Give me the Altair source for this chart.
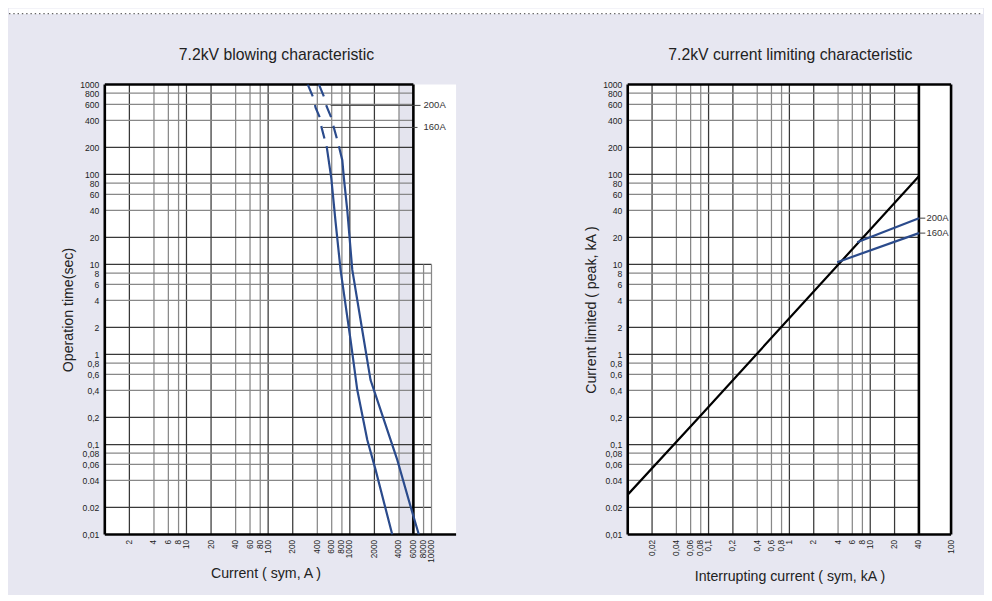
import altair as alt
import pandas as pd
import math

# ---------------- tick values / labels ----------------
time_ticks = [0.01, 0.02, 0.04, 0.06, 0.08, 0.1, 0.2, 0.4, 0.6, 0.8, 1, 2, 4, 6, 8,
              10, 20, 40, 60, 80, 100, 200, 400, 600, 800, 1000]
time_labels = ["0,01", "0.02", "0.04", "0,06", "0,08", "0,1", "0,2", "0,4", "0,6", "0,8",
               "1", "2", "4", "6", "8", "10", "20", "40", "60", "80", "100", "200",
               "400", "600", "800", "1000"]

blow_ticks = [2, 4, 6, 8, 10, 20, 40, 60, 80, 100, 200, 400, 600, 800, 1000,
              2000, 4000, 6000, 8000, 10000]
blow_labels = [str(v) for v in blow_ticks]

lim_ticks = [0.02, 0.04, 0.06, 0.08, 0.1, 0.2, 0.4, 0.6, 0.8, 1, 2, 4, 6, 8, 10, 20, 40, 100]
lim_labels = ["0,02", "0,04", "0,06", "0,08", "0,1", "0,2", "0,4", "0,6", "0,8",
              "1", "2", "4", "6", "8", "10", "20", "40", "100"]

# ---------------- blowing characteristic (A, sec) ----------------
b200_dash_x = [418, 482, 520, 593, 638, 702, 735]
b200_dash_y = [1000, 731, 570, 428, 331, 241, 206]
b200_solid_x = [735, 809, 846, 931, 1072, 1419, 1794, 2065, 3804, 5534, 6995]
b200_solid_y = [206, 144, 91, 40, 8.7, 1.87, 0.52, 0.356, 0.068, 0.0206, 0.01]

b160_dash_x = [305, 357, 381, 430, 451, 495, 520]
b160_dash_y = [1000, 713, 552, 428, 333, 241, 206]
b160_solid_x = [520, 593, 669, 771, 1021, 1233, 1634, 2065, 3306]
b160_solid_y = [206, 91, 29.7, 8.67, 1.45, 0.405, 0.113, 0.0526, 0.01]

blow_names = ["200A", "160A"]
blow_leader_y = [585, 333]
blow_leader_x0 = [582, 464]
blow_leader_x1 = [7340, 6740]
blow_label_x = [8000, 8000]

# ---------------- current limiting characteristic (kA) ----------------
prosp_x = [0.01, 0.082, 40]
prosp_y = [0.0277, 0.216, 95.5]
lim200_x = [6.9, 40]
lim200_y = [17.7, 32.7]
lim160_x = [3.9, 40]
lim160_y = [10.6, 22.3]
lim_names = ["200A", "160A"]
lim_end_y = [32.7, 22.3]
lim_leader_x1 = [48, 48]
lim_label_x = [49.5, 49.5]

titles = ["7.2kV blowing characteristic", "7.2kV current limiting characteristic"]

# ---------------- helpers ----------------
FONT = "Liberation Sans"
BLUE = "#2b4b8c"
W_BLOW, W_LIM, H = 352, 324, 451


def label_expr(vals, labs):
    return ("[" + ",".join(repr(l) for l in labs) + "][indexof(["
            + ",".join(repr(v) for v in vals) + "], datum.value)]")


def level(v):
    m = round(v / 10 ** math.floor(math.log10(v) + 1e-9))
    return "major" if m in (1, 2) else "minor"


def grid_table(xs, ys, x_lo, x_full, y_lo, y_full, x_ext=None, y_ext_max=None, x_ext_max=None):
    rows = []
    for v in xs:
        rows.append(dict(x=v, x2=v, y=y_lo, y2=y_full, level=level(v)))
    for v in ys:
        xe = x_ext_max if (y_ext_max is not None and v <= y_ext_max) else x_full
        rows.append(dict(x=x_lo, x2=xe, y=v, y2=v, level=level(v)))
    if x_ext:
        for v in x_ext:
            rows.append(dict(x=v, x2=v, y=y_lo, y2=y_ext_max, level="minor"))
    return pd.DataFrame(rows)


ysc = alt.Scale(type="log", domain=[0.01, 1000], nice=False)
grid_colors = alt.Scale(domain=["major", "minor"], range=["#383838", "#888888"])

y_axis_kw = dict(values=time_ticks, labelExpr=label_expr(time_ticks, time_labels),
                 labelOverlap=False, labelPadding=6, titlePadding=4, labelFlush=False,
                 labelFontSize=8.6)
x_axis_kw = dict(labelAngle=270, labelOverlap=False, labelPadding=5, labelFlush=False,
                 titleBaseline="middle", titleAlign="center", labelFontSize=8.2)


class Panel:
    def __init__(self, xsc, xaxis, yaxis):
        self.xsc, self.xaxis, self.yaxis = xsc, xaxis, yaxis

    def X(self, f="x:Q"):
        return alt.X(f, scale=self.xsc, axis=self.xaxis)

    def Y(self, f="y:Q"):
        return alt.Y(f, scale=ysc, axis=self.yaxis)

    def rules(self, df, color=None, width=1.25):
        enc = dict(x=self.X(), x2="x2:Q", y=self.Y(), y2="y2:Q")
        if color is None:
            enc["color"] = alt.Color("level:N", scale=grid_colors, legend=None)
            return alt.Chart(df).mark_rule(strokeWidth=width).encode(**enc)
        return alt.Chart(df).mark_rule(strokeWidth=width, color=color).encode(**enc)

    def line(self, xs, ys, color, width=2.2, dash=None):
        df = pd.DataFrame({"x": xs, "y": ys})
        kw = dict(color=color, strokeWidth=width, clip=True)
        if dash:
            kw["strokeDash"] = dash
        return alt.Chart(df).mark_line(**kw).encode(x=self.X(), y=self.Y())

    def rect(self, df, color):
        return alt.Chart(df).mark_rect(color=color).encode(
            x=self.X(), x2="x2:Q", y=self.Y(), y2="y2:Q")

    def labels(self, df):
        return alt.Chart(df).mark_text(align="left", baseline="middle", font=FONT,
                                       fontSize=9.5, color="#333").encode(
            x=self.X("lx:Q"), y=self.Y(), text="name:N")


one = pd.DataFrame({"a": [0]})


def title_mark(text, cx):
    return alt.Chart(pd.DataFrame({"t": [text]})).mark_text(
        font=FONT, fontSize=15.8, color="#222", align="center", baseline="middle").encode(
        x=alt.value(cx), y=alt.value(-29), text="t:N")


# ================= left chart =================
xb = alt.Scale(type="log", domain=[1, 20000], nice=False)
PL = Panel(
    xb,
    alt.Axis(values=blow_ticks, labelExpr=label_expr(blow_ticks, blow_labels),
             title="Current ( sym, A )", titleX=161, titleY=39, **x_axis_kw),
    alt.Axis(title="Operation time(sec)", **y_axis_kw))

blow_grid_x = [v for v in blow_ticks if v <= 4000]
blow_grid_y = [v for v in time_ticks if 0.01 < v < 1000]
grid_b = grid_table(blow_grid_x, blow_grid_y, 1, 6000, 0.01, 1000,
                    x_ext=[8000, 10000], y_ext_max=10, x_ext_max=10000)
frame_b = pd.DataFrame(dict(
    x=[1, 6000, 1, 1], x2=[1, 6000, 6000, 20000],
    y=[0.01, 0.01, 1000, 0.01], y2=[1000, 1000, 1000, 0.01]))
band_b = pd.DataFrame(dict(x=[4000], x2=[6000], y=[0.01], y2=[1000]))

strip = alt.Chart(one).mark_rect(color="white").encode(
    x=alt.value(-96), x2=alt.value(880), y=alt.value(-76), y2=alt.value(-70.5))
dots = alt.Chart(one).mark_rule(color="#666", strokeWidth=1.4, strokeDash=[1.4, 2.9]).encode(
    x=alt.value(-96), x2=alt.value(880), y=alt.value(-71))

lead_b = pd.DataFrame(dict(name=blow_names, y=blow_leader_y, x=blow_leader_x0,
                           x2=blow_leader_x1, lx=blow_label_x))

left = alt.layer(
    strip, dots,
    PL.rect(band_b, "#e4e4ee"),
    PL.rules(grid_b),
    PL.rules(frame_b, color="black", width=2.6),
    PL.rules(lead_b, color="#444", width=1),
    PL.line(b200_dash_x, b200_dash_y, BLUE, dash=[13, 9]),
    PL.line(b200_solid_x, b200_solid_y, BLUE),
    PL.line(b160_dash_x, b160_dash_y, BLUE, dash=[13, 9]),
    PL.line(b160_solid_x, b160_solid_y, BLUE),
    PL.labels(lead_b),
    title_mark(titles[0], 172),
).properties(width=W_BLOW, height=H)

# ================= right chart =================
xl = alt.Scale(type="log", domain=[0.01, 100], nice=False)
PR = Panel(
    xl,
    alt.Axis(values=lim_ticks, labelExpr=label_expr(lim_ticks, lim_labels),
             title="Interrupting current ( sym, kA )", titleX=162, titleY=42, **x_axis_kw),
    alt.Axis(title="Current limited ( peak, kA )", **y_axis_kw))

lim_grid_x = [v for v in lim_ticks if v < 40]
grid_l = grid_table(lim_grid_x, blow_grid_y, 0.01, 40, 0.01, 1000)
frame_l = pd.DataFrame(dict(
    x=[0.01, 40, 100, 0.01, 0.01], x2=[0.01, 40, 100, 100, 100],
    y=[0.01, 0.01, 0.01, 1000, 0.01], y2=[1000, 1000, 1000, 1000, 0.01]))

lead_l = pd.DataFrame(dict(name=lim_names, y=lim_end_y, x=[40, 40], x2=lim_leader_x1,
                           lx=lim_label_x))

right = alt.layer(
    PR.rules(grid_l),
    PR.rules(frame_l, color="black", width=2.6),
    PR.rules(lead_l, color="#444", width=1),
    PR.line(prosp_x, prosp_y, "black", width=2.2),
    PR.line(lim200_x, lim200_y, BLUE),
    PR.line(lim160_x, lim160_y, BLUE),
    PR.labels(lead_l),
    title_mark(titles[1], 163),
).properties(width=W_LIM, height=H)

chart = alt.hconcat(left, right, spacing=172, bounds="flush").properties(
    padding={"left": 0, "top": 0, "right": 0, "bottom": 10}
).configure(background="#e7e7f1").configure_view(fill="white", stroke=None).configure_axis(
    labelFont=FONT, labelColor="#222",
    titleFont=FONT, titleFontSize=14.2, titleFontWeight="normal", titleColor="#222",
    ticks=False, domain=False, grid=False)

chart.save("out.html", embed_options={"renderer": "svg", "actions": False})
